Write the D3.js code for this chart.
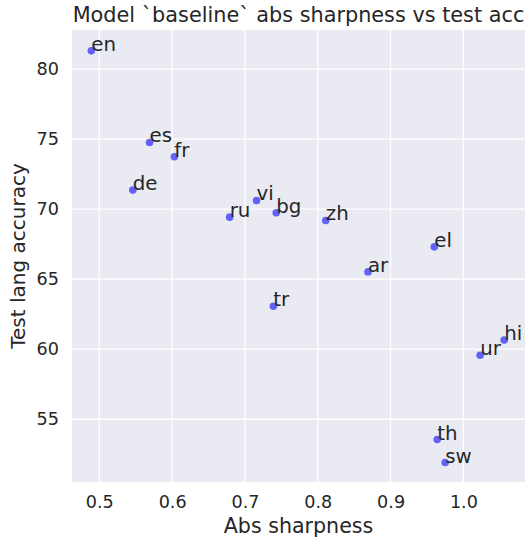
<!DOCTYPE html>
<html>
<head>
<meta charset="utf-8">
<script src="https://cdn.jsdelivr.net/npm/d3@7"></script>
<style>
  body { margin: 0; background: #fff; }
  text { font-family: "DejaVu Sans", sans-serif; fill: #262626; }
</style>
</head>
<body>
<div id="chart"></div>
<script>
// Chart data
const langs = ["en", "es", "fr", "de", "vi", "ru", "bg", "zh", "el", "ar", "tr", "hi", "ur", "th", "sw"];
const sharpness = [0.489, 0.569, 0.603, 0.546, 0.716, 0.679, 0.743, 0.811, 0.960, 0.869, 0.739, 1.056, 1.023, 0.964, 0.975];
const accuracy = [81.3, 74.76, 73.74, 71.36, 70.62, 69.43, 69.74, 69.19, 67.31, 65.52, 63.07, 60.66, 59.57, 53.55, 51.91];
const xTicks = [0.5, 0.6, 0.7, 0.8, 0.9, 1.0];
const yTicks = [55, 60, 65, 70, 75, 80];

const svgWidth = 529;
const svgHeight = 542;

const margin = { top: 30, right: 4, bottom: 60, left: 72 };
const width = svgWidth - margin.left - margin.right;
const height = svgHeight - margin.top - margin.bottom;

const svg = d3.select("#chart")
  .append("svg")
  .attr("width", svgWidth)
  .attr("height", svgHeight);

const plot = svg.append("g")
  .attr("transform", `translate(${margin.left}, ${margin.top})`);

const x = d3.scaleLinear().domain([0.4625, 1.0846]).range([0, width]);
const y = d3.scaleLinear().domain([50.52, 82.79]).range([height, 0]);

// background
plot.append("rect")
  .attr("width", width)
  .attr("height", height)
  .attr("fill", "#eaeaf2");

// grid lines
plot.selectAll(".xgrid")
  .data(xTicks)
  .enter()
  .append("line")
  .attr("x1", d => x(d)).attr("x2", d => x(d))
  .attr("y1", 0).attr("y2", height)
  .attr("stroke", "#fff").attr("stroke-width", 1.3);

plot.selectAll(".ygrid")
  .data(yTicks)
  .enter()
  .append("line")
  .attr("y1", d => y(d)).attr("y2", d => y(d))
  .attr("x1", 0).attr("x2", width)
  .attr("stroke", "#fff").attr("stroke-width", 1.3);

// axes (no spines, no tick marks)
const xAxis = plot.append("g")
  .attr("transform", `translate(0, ${height})`)
  .call(d3.axisBottom(x).tickValues(xTicks).tickFormat(d3.format(".1f")).tickSize(0).tickPadding(13.5));

const yAxis = plot.append("g")
  .call(d3.axisLeft(y).tickValues(yTicks).tickSize(0).tickPadding(13));

[xAxis, yAxis].forEach(a => {
  a.select(".domain").remove();
  a.selectAll("text")
    .attr("font-family", "DejaVu Sans")
    .attr("font-size", 17.6)
    .attr("fill", "#262626");
});

// points
plot.selectAll("circle")
  .data(langs)
  .enter()
  .append("circle")
  .attr("cx", (d, i) => x(sharpness[i]))
  .attr("cy", (d, i) => y(accuracy[i]))
  .attr("r", 3.8)
  .attr("fill", "#0000ff")
  .attr("opacity", 0.58);

// point labels
plot.selectAll(".lbl")
  .data(langs)
  .enter()
  .append("text")
  .attr("x", (d, i) => x(sharpness[i]))
  .attr("y", (d, i) => y(accuracy[i]))
  .attr("font-size", 19.8)
  .text(d => d);

// axis labels and title
svg.append("text")
  .attr("x", margin.left + width / 2)
  .attr("y", 533)
  .attr("text-anchor", "middle")
  .attr("font-size", 20.6)
  .text("Abs sharpness");

svg.append("text")
  .attr("transform", `translate(25, ${margin.top + height / 2}) rotate(-90)`)
  .attr("text-anchor", "middle")
  .attr("font-size", 20)
  .text("Test lang accuracy");

svg.append("text")
  .attr("x", margin.left + width / 2)
  .attr("y", 22)
  .attr("text-anchor", "middle")
  .attr("font-size", 20.8)
  .text("Model `baseline` abs sharpness vs test acc");
</script>
</body>
</html>
